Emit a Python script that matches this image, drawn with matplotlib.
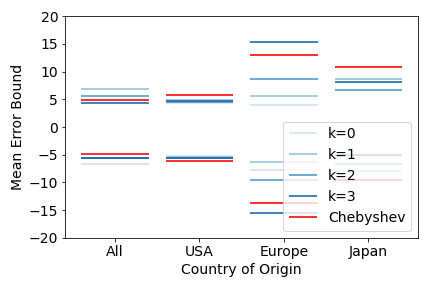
import matplotlib

matplotlib.use("Agg")

import matplotlib.pyplot as plt
import seaborn as sns

plt.rcParams["font.size"] = 14

categories = ["All", "USA", "Europe", "Japan"]

# upper / lower mean error bound per k, one value per category
k_labels = ["k=0", "k=1", "k=2", "k=3"]
upper_bounds = [
    [6.9, 4.4, 4.0, 8.7],
    [6.9, 4.9, 5.6, 8.7],
    [5.6, 4.5, 8.7, 6.6],
    [4.4, 4.7, 15.35, 8.2],
]
lower_bounds = [
    [-6.7, -5.3, -7.7, -5.0],
    [-5.6, -5.4, -6.4, -7.9],
    [-5.6, -5.5, -9.5, -6.6],
    [-5.6, -5.6, -15.5, -5.0],
]

cheb_upper = [4.8, 5.8, 12.9, 10.85]
cheb_lower = [-4.8, -6.2, -13.7, -9.6]

half_width = 0.4
colors = sns.color_palette("Blues", len(k_labels))

fig, ax = plt.subplots(figsize=(6, 4), dpi=72)

positions = list(range(len(categories)))
x_start = [p - half_width for p in positions]
x_end = [p + half_width for p in positions]

for label, color, upper, lower in zip(k_labels, colors, upper_bounds, lower_bounds):
    ax.hlines(upper, x_start, x_end, color=color, alpha=0.8, linewidth=2, label=label)
    ax.hlines(lower, x_start, x_end, color=color, alpha=0.8, linewidth=2)

ax.hlines(cheb_upper, x_start, x_end, color="red", alpha=0.8, linewidth=2, label="Chebyshev")
ax.hlines(cheb_lower, x_start, x_end, color="red", alpha=0.8, linewidth=2)

ax.set_xticks(positions)
ax.set_xticklabels(categories)
ax.set_ylim(-20, 20)
ax.set_yticks(range(-20, 21, 5))
ax.set_xlabel("Country of Origin")
ax.set_ylabel("Mean Error Bound")
ax.legend(loc="lower right")

fig.subplots_adjust(left=0.151, right=0.968, top=0.944, bottom=0.174)
fig.savefig("out.png", dpi=72)
plt.close(fig)
